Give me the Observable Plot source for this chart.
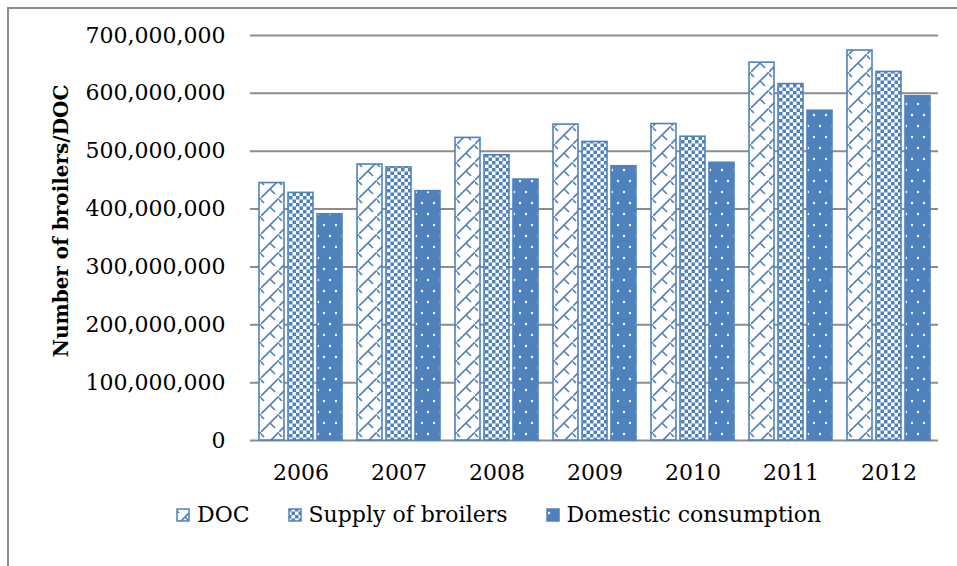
<!DOCTYPE html>
<html><head><meta charset="utf-8">
<script src="https://cdn.jsdelivr.net/npm/d3@7"></script>
<script src="https://cdn.jsdelivr.net/npm/@observablehq/plot@0.6"></script>
<style>
html,body{margin:0;padding:0;background:#fff;overflow:hidden;width:957px;height:566px;}
#frame{position:absolute;left:7px;top:7px;width:1000px;height:620px;border-left:2px solid #8c8c8c;border-top:2px solid #8c8c8c;}
#chart{position:absolute;left:0;top:0;width:957px;height:490px;}
#chart svg{position:absolute;left:0;top:0;}
#legend{position:absolute;left:176px;top:502px;display:flex;align-items:center;font-family:"DejaVu Serif";font-size:22px;color:#000;white-space:nowrap;}
.item{display:flex;align-items:center;margin-right:38px;}
.sw{width:14px;height:14px;margin-right:7px;display:block;}
</style></head><body>
<svg width="0" height="0" style="position:absolute;left:0;top:0">
  <defs>
    <pattern id="pDoc" patternUnits="userSpaceOnUse" width="18" height="18">
      <rect width="18" height="18" fill="#fff"/>
      <path d="M-2,20 L20,-2 M9,9 L14,14 M-1,1 L3,5" stroke="#4F81BD" stroke-width="1.6" fill="none"/>
    </pattern>
    <pattern id="pSup" patternUnits="userSpaceOnUse" width="7" height="7">
      <rect width="7" height="7" fill="#fff"/>
      <rect x="0" y="0" width="3.5" height="3.5" fill="#4F81BD"/>
      <rect x="3.5" y="3.5" width="3.5" height="3.5" fill="#4F81BD"/>
    </pattern>
    <pattern id="pDom" patternUnits="userSpaceOnUse" width="12" height="22">
      <rect width="12" height="22" fill="#4F81BD"/>
      <circle cx="3" cy="5" r="1.2" fill="#fff"/>
      <circle cx="9" cy="16" r="1.2" fill="#fff"/>
    </pattern>
  </defs>
</svg>
<div id="frame"></div>
<div id="chart"></div>
<div id="legend"></div>
<script>
const years = ["2006", "2007", "2008", "2009", "2010", "2011", "2012"];
const seriesNames = ["DOC", "Supply of broilers", "Domestic consumption"];
const doc = [445e6, 477e6, 523e6, 546e6, 547e6, 653e6, 674e6];
const supply = [428e6, 472e6, 493e6, 516e6, 525e6, 616e6, 637e6];
const domestic = [391e6, 431e6, 451e6, 474e6, 480e6, 570e6, 595e6];
const yTicks = [0, 100e6, 200e6, 300e6, 400e6, 500e6, 600e6, 700e6];
const yTitle = "Number of broilers/DOC";
const patterns = ["url(#pDoc)", "url(#pSup)", "url(#pDom)"];

const values = [doc, supply, domestic];
const data = years.flatMap((yr, i) => seriesNames.map((s, j) => ({year: yr, series: s, value: values[j][i]})));

const W = 957, H = 490;
const margins = {marginLeft: 250, marginRight: 19, marginTop: 35, marginBottom: 50};
const font = {fontFamily: "DejaVu Serif", fontSize: "22px", color: "#000", background: "transparent", overflow: "visible"};

const base = Plot.plot({
  width: W, height: H, ...margins, style: font,
  x: {domain: years, type: "band", paddingInner: 0.156, paddingOuter: 0.078},
  y: {domain: [0, 700e6]},
  marks: [
    Plot.gridY(yTicks, {stroke: "#8c8c8c", strokeOpacity: 1, strokeWidth: 2}),
    Plot.axisY(yTicks, {tickSize: 0, tickPadding: 25, tickFormat: d3.format(","), label: null, fontSize: 22}),
    Plot.axisX({tickSize: 0, tickPadding: 24, label: null, fontSize: 22}),
    Plot.text([yTitle], {text: d => d, frameAnchor: "left", textAnchor: "middle", lineAnchor: "middle", dx: -189, dy: -17, rotate: -90, fontWeight: "bold", fontSize: 20})
  ]
});

const bars = Plot.plot({
  width: W, height: H, ...margins, style: font,
  fx: {domain: years, paddingInner: 0.156, paddingOuter: 0.078, axis: null, label: null},
  x: {domain: seriesNames, paddingInner: 0.14, paddingOuter: 0, axis: null},
  y: {domain: [0, 700e6], axis: null},
  color: {domain: seriesNames, range: patterns},
  marks: [
    Plot.barY(data, {fx: "year", x: "series", y: "value", fill: "series", stroke: "#4F81BD", strokeWidth: 1.6})
  ]
});

const chart = document.getElementById("chart");
chart.appendChild(base);
chart.appendChild(bars);

const legend = document.getElementById("legend");
seriesNames.forEach((s, j) => {
  const item = document.createElement("div");
  item.className = "item";
  item.innerHTML = `<svg class="sw" width="14" height="14"><rect x="1" y="1" width="12" height="12" fill="${patterns[j]}" stroke="#4F81BD" stroke-width="1.5"/></svg><span>${s}</span>`;
  legend.appendChild(item);
});
</script>
</body></html>
